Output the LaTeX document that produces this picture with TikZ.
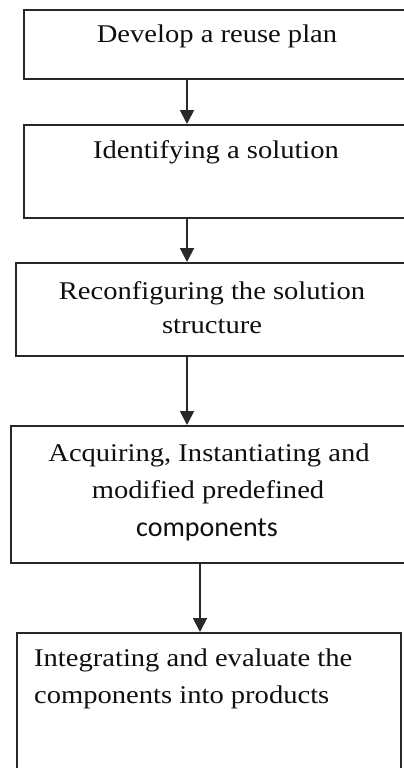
\documentclass[tikz,border=0pt]{standalone}
\usepackage{fontspec}
\setmainfont{Liberation Serif}[FakeStretch=1.12]
\newfontfamily\calib{Carlito}
\usetikzlibrary{arrows.meta}
\definecolor{boxcol}{RGB}{40,40,40}
\definecolor{txtcol}{RGB}{15,15,15}
\begin{document}
\begin{tikzpicture}[x=1pt,y=-1pt,
  box/.style={draw=boxcol,line width=1.9pt,rectangle,inner sep=0pt,anchor=north west},
  lbl/.style={font=\fontsize{25.5}{30}\selectfont,text=txtcol,inner sep=0pt,anchor=base},
  arr/.style={draw=boxcol,line width=1.9pt,-{Triangle[length=14pt,width=14pt]}}]
\clip (0,0) rectangle (404,768);
\fill[white] (0,0) rectangle (404,768);
% boxes
\node[box,minimum width=395pt,minimum height=69pt] (b1) at (23,9) {};
\node[box,minimum width=395pt,minimum height=93pt] (b2) at (23,124) {};
\node[box,minimum width=400pt,minimum height=93pt] (b3) at (15,262) {};
\node[box,minimum width=400pt,minimum height=137pt] (b4) at (10,425) {};
\node[box,minimum width=384pt,minimum height=200pt] (b5) at (16,632) {};
% texts
\node[lbl] (t1) at (217,43) {Develop a reuse plan};
\node[lbl] (t2) at (216,158) {Identifying a solution};
\node[lbl] (t3a) at (212,299) {Reconfiguring the solution};
\node[lbl] (t3b) at (212,333) {structure};
\node[lbl] (t4a) at (209,461) {Acquiring, Instantiating and};
\node[lbl] (t4b) at (208,498) {modified predefined};
\node[lbl,font=\calib\fontsize{28}{32}\selectfont] (t4c) at (207,536) {components};
\node[lbl,anchor=base west] (t5a) at (34,666) {Integrating and evaluate the};
\node[lbl,anchor=base west] (t5b) at (34,703) {components into products};
% arrows
\coordinate (ax) at (187,0);
\coordinate (bx) at (200,0);
\draw[arr] (b1.south -| ax) -- (b2.north -| ax);
\draw[arr] (b2.south -| ax) -- (b3.north -| ax);
\draw[arr] (b3.south -| ax) -- (b4.north -| ax);
\draw[arr] (b4.south -| bx) -- (b5.north -| bx);
\end{tikzpicture}
\end{document}
